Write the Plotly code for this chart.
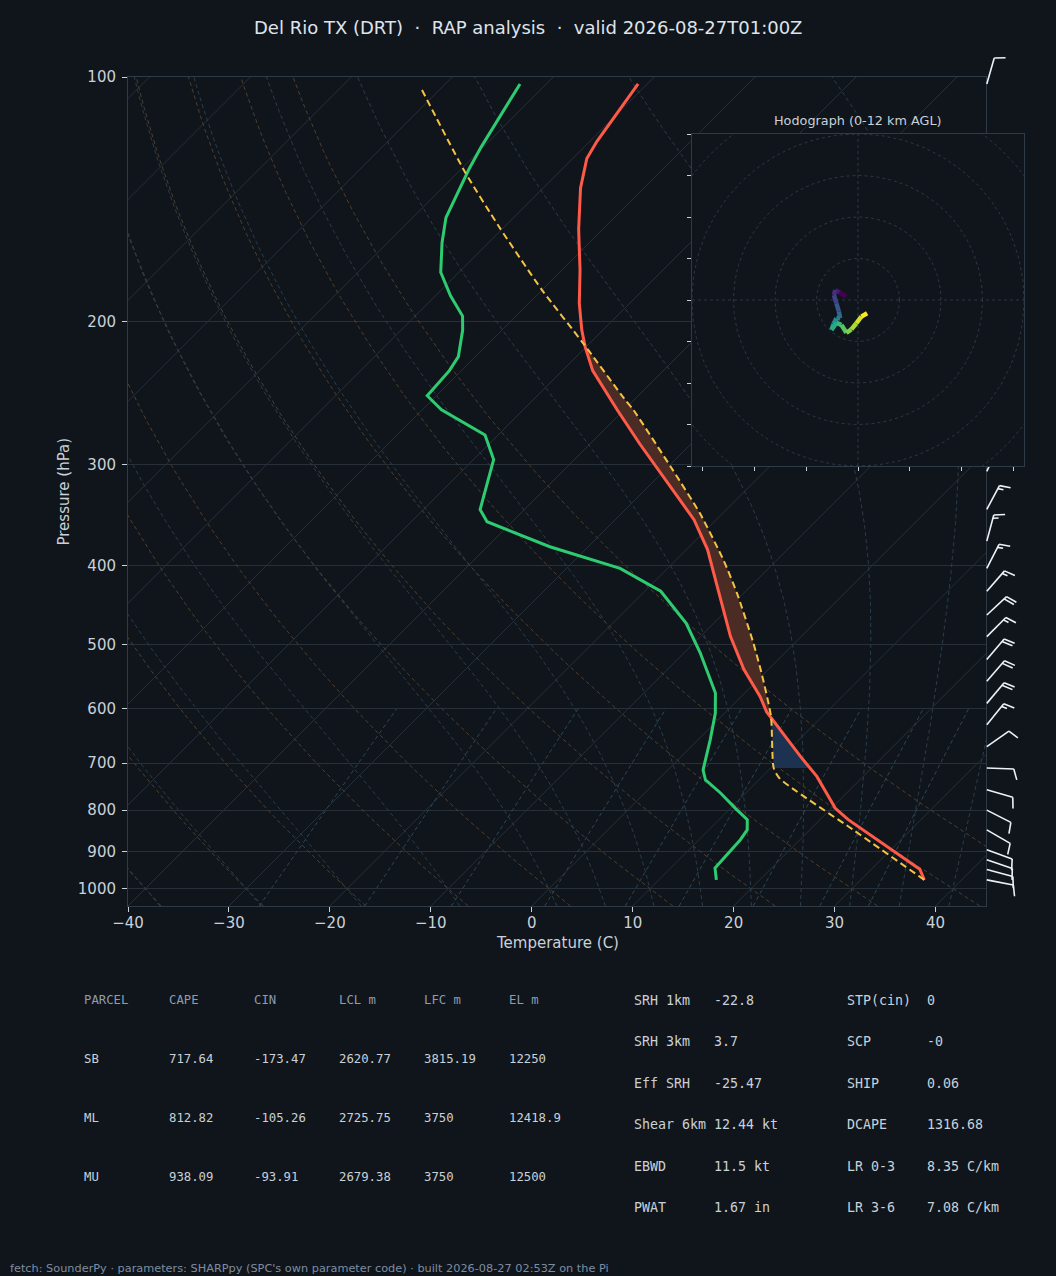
import numpy as np
import plotly.graph_objects as go
from plotly.colors import sample_colorscale

# ------------------------------------------------------------------
# Values
# ------------------------------------------------------------------
TEMP_P = [975, 946, 822, 796, 727, 687, 605, 580, 537, 489, 424, 382, 351, 311,
          283, 257, 236, 230, 215, 205, 190, 173, 154, 137, 126, 120, 102]
TEMP_C = [36.3, 34.8, 22.8, 20.4, 15.4, 11.8, 4.0, 1.9, -2.4, -7.0, -13.3, -17.9,
          -22.2, -29.5, -35.1, -40.7, -45.5, -47.0, -50.1, -52.1, -55.0, -58.2,
          -62.4, -66.3, -68.6, -69.3, -70.9]

DEW_P = [975, 943, 870, 846, 822, 796, 762, 734, 714, 655, 608, 574, 512, 471,
         430, 403, 379, 353, 341, 296, 276, 257, 247, 230, 221, 205, 197, 186,
         174, 160, 149, 130, 122, 102]
DEW_C = [15.7, 14.4, 14.1, 13.8, 12.8, 10.5, 7.5, 4.7, 3.5, 1.2, -0.9, -2.9, -8.4,
         -12.7, -18.4, -24.7, -33.8, -42.5, -44.4, -48.0, -51.3, -58.1, -60.9,
         -61.2, -61.7, -63.9, -65.3, -68.5, -71.8, -74.6, -76.7, -79.2, -80.2, -82.6]

PARCEL_P = [975, 846, 731, 710, 613, 545, 498, 432, 395, 345, 305, 257, 249, 213,
            183, 153, 131, 103]
PARCEL_C = [36.3, 24.3, 11.9, 10.3, 4.9, -0.1, -4.1, -10.7, -15.1, -22.2, -29.2,
            -39.1, -41.1, -50.6, -60.0, -70.5, -79.3, -92.1]
CIN_BASE_P = 710   # LCL: CIN shading starts here

BARB_P = [975, 947, 921, 895, 846, 800, 755, 710, 668, 628, 591, 555, 522, 489,
          460, 430, 403, 373, 341, 306, 102]
BARB_DIR = [101, 105, 109, 110, 120, 117, 106, 92, 55, 39, 40, 41, 40, 45, 47, 41,
            27, 15, 28, 25, 16]
BARB_KT = [10, 10, 10, 10, 10, 10, 10, 10, 10, 15, 20, 20, 20, 15, 20, 15, 15, 15,
           15, 15, 10]

HODO_U = [-2.8, -4.4, -5.5, -5.8, -5.2, -4.6, -4.3, -5.2, -5.9, -6.4, -5.2, -4.0,
          -2.8, -1.6, -0.4, 0.8, 2.2]
HODO_V = [0.8, 1.8, 2.4, 1.2, -0.8, -2.8, -4.4, -4.4, -5.8, -7.2, -5.5, -6.0,
          -7.9, -7.1, -5.6, -4.0, -3.2]
HODO_RINGS = [10, 20, 30, 40, 50, 60]
HODO_LIM = 40
HODO_XTICKS = [-37.5, -25, -12.5, 0, 12.5, 25, 37.5]
HODO_YTICKS = [-40, -30, -20, -10, 0, 10, 20, 30, 40]

P_TICKS = [100, 200, 300, 400, 500, 600, 700, 800, 900, 1000]
P_TICKTEXT = ["100", "200", "300", "400", "500", "600", "700", "800", "900", "1000"]
T_TICKS = [-40, -30, -20, -10, 0, 10, 20, 30, 40]

ISOTHERMS = list(range(-130, 50, 10))
DRY_T0 = list(range(-40, 60, 10))
MOIST_T0 = [-40, -30, -20, -10, 0, 5, 10, 15, 20, 25, 30, 35, 40, 45]
MIX_W = [0.0004, 0.001, 0.002, 0.004, 0.007, 0.01, 0.016, 0.024, 0.032]

TITLE = "Del Rio TX (DRT)\u00a0\u00a0·\u00a0\u00a0RAP analysis\u00a0\u00a0·\u00a0\u00a0valid 2026-08-27T01:00Z"
HODO_TITLE = "Hodograph (0-12 km AGL)"
FOOTER = "fetch: SounderPy · parameters: SHARPpy (SPC's own parameter code) · built 2026-08-27 02:53Z on the Pi"

PARCEL_HEADERS = ["PARCEL", "CAPE", "CIN", "LCL m", "LFC m", "EL m"]
PARCEL_NAMES = ["SB", "ML", "MU"]
PARCEL_CAPE = [717.64, 812.82, 938.09]
PARCEL_CIN = [-173.47, -105.26, -93.91]
PARCEL_LCL = [2620.77, 2725.75, 2679.38]
PARCEL_LFC = [3815.19, 3750, 3750]
PARCEL_EL = [12250, 12418.9, 12500]

KIN_NAMES = ["SRH 1km", "SRH 3km", "Eff SRH", "Shear 6km", "EBWD", "PWAT"]
KIN_VALUES = [-22.8, 3.7, -25.47, 12.44, 11.5, 1.67]
KIN_UNITS = ["", "", "", "kt", "kt", "in"]
THERMO_NAMES = ["STP(cin)", "SCP", "SHIP", "DCAPE", "LR 0-3", "LR 3-6"]
THERMO_VALUES = [0, -0.0, 0.06, 1316.68, 8.35, 7.08]
THERMO_UNITS = ["", "", "", "", "C/km", "C/km"]

# ------------------------------------------------------------------
# Layout / style
# ------------------------------------------------------------------
W, H = 1056, 1276
BG = "#10151c"
TXT = "#c9d1d9"
MUTED = "#8d9cb0"
SPINE = "#2f3a47"
GRID = "#272f39"
MONO = "DejaVu Sans Mono"
SANS = "DejaVu Sans"

PLOT_L, PLOT_R, PLOT_T, PLOT_B = 128, 986, 77, 906
BARB_TOP = 40
HODO_L, HODO_R, HODO_T, HODO_B = 692, 1024, 134, 466
X_MIN, X_MAX = -40, 45
P_BOT, P_TOP = 1050.0, 100.0

PX_PER_DEC = (PLOT_B - PLOT_T) / np.log10(P_BOT / P_TOP)
PX_PER_DEG = (PLOT_R - PLOT_L) / (X_MAX - X_MIN)


def skew(t, p):
    """45-degree skew (in display space) of temperature t at pressure p."""
    t = np.asarray(t, dtype=float)
    p = np.asarray(p, dtype=float)
    return t + np.log10(P_BOT / p) * PX_PER_DEC / PX_PER_DEG


# ------------------------------------------------------------------
# Thermodynamic reference lines
# ------------------------------------------------------------------
RD, CPD, LV, EPS = 287.04749, 1004.6662, 2.50084e6, 0.6219569


def sat_mr(tk, p):
    tc = tk - 273.15
    es = 6.112 * np.exp(17.67 * tc / (tc + 243.5))
    return EPS * es / (p - es)


def moist_rate(tk, p):
    rs = sat_mr(tk, p)
    return (RD * tk + LV * rs) / (CPD + LV * LV * rs * EPS / (RD * tk * tk)) / p


def moist_run(t0c, plev):
    t = t0c + 273.15
    out = [t]
    for i in range(1, len(plev)):
        p0, p1 = plev[i - 1], plev[i]
        h = p1 - p0
        k1 = moist_rate(t, p0)
        k2 = moist_rate(t + 0.5 * h * k1, p0 + 0.5 * h)
        k3 = moist_rate(t + 0.5 * h * k2, p0 + 0.5 * h)
        k4 = moist_rate(t + h * k3, p1)
        t = t + h * (k1 + 2 * k2 + 2 * k3 + k4) / 6.0
        out.append(t)
    return np.array(out) - 273.15


def joined(lines):
    xs, ys = [], []
    for x, y in lines:
        xs.extend(list(x) + [None])
        ys.extend(list(y) + [None])
    return xs, ys


p_full = np.geomspace(P_BOT, P_TOP, 80)

iso_lines = [(skew([t, t], [P_BOT, P_TOP]), [P_BOT, P_TOP]) for t in ISOTHERMS]
dry_lines = []
for t0 in DRY_T0:
    tt = (t0 + 273.15) * (p_full / 1000.0) ** (RD / CPD) - 273.15
    dry_lines.append((skew(tt, p_full), p_full))

p_up = np.linspace(1000.0, P_TOP, 181)
p_dn = np.linspace(1000.0, P_BOT, 6)
moist_lines = []
for t0 in MOIST_T0:
    up = moist_run(t0, p_up)
    dn = moist_run(t0, p_dn)
    pp = np.concatenate([p_dn[::-1], p_up[1:]])
    tt = np.concatenate([dn[::-1], up[1:]])
    moist_lines.append((skew(tt, pp), pp))

p_mix = np.linspace(P_BOT, 600.0, 30)
mix_lines = []
for w in MIX_W:
    e = p_mix * w / (EPS + w)
    lg = np.log(e / 6.112)
    td = 243.5 * lg / (17.67 - lg)
    mix_lines.append((skew(td, p_mix), p_mix))

fig = go.Figure()


def add_bg(lines, color, dash, width=1):
    xs, ys = joined(lines)
    fig.add_trace(go.Scatter(x=xs, y=ys, mode="lines", hoverinfo="skip",
                             line=dict(color=color, width=width, dash=dash),
                             xaxis="x", yaxis="y"))


add_bg(iso_lines, GRID, "solid")
add_bg(dry_lines, "#4e3f2d", "4px,3px")
add_bg(moist_lines, "#2a3c4a", "4px,3px")
add_bg(mix_lines, "#2b4656", "4px,3px")

# ------------------------------------------------------------------
# CAPE / CIN shading between parcel and environment
# ------------------------------------------------------------------
def interp_logp(ps, ts, pn):
    return np.interp(np.log(pn), np.log(np.asarray(ps, float))[::-1],
                     np.asarray(ts, float)[::-1])


p_top_par = min(PARCEL_P)
grid = sorted({p for p in TEMP_P + PARCEL_P if p_top_par <= p <= CIN_BASE_P} |
              {CIN_BASE_P}, reverse=True)
grid = np.array(grid, float)
tp = interp_logp(PARCEL_P, PARCEL_C, grid)
te = interp_logp(TEMP_P, TEMP_C, grid)
dif = tp - te

gp, gtp, gte = [grid[0]], [tp[0]], [te[0]]
for i in range(1, len(grid)):
    if dif[i - 1] * dif[i] < 0:
        f = dif[i - 1] / (dif[i - 1] - dif[i])
        lp = np.log(grid[i - 1]) + f * (np.log(grid[i]) - np.log(grid[i - 1]))
        pc = float(np.exp(lp))
        tc = tp[i - 1] + f * (tp[i] - tp[i - 1])
        gp.append(pc); gtp.append(tc); gte.append(tc)
    gp.append(grid[i]); gtp.append(tp[i]); gte.append(te[i])
gp, gtp, gte = np.array(gp), np.array(gtp), np.array(gte)
gd = gtp - gte

runs = []
cur = [0]
sign = np.sign(gd[0]) if gd[0] != 0 else np.sign(gd[1])
for i in range(1, len(gp)):
    s = np.sign(gd[i])
    if s == 0 or s == sign:
        cur.append(i)
        if s == 0:
            runs.append((sign, cur)); cur = [i]
            sign = np.sign(gd[i + 1]) if i + 1 < len(gd) else sign
    else:
        runs.append((sign, cur)); cur = [i]; sign = s
runs.append((sign, cur))

seen_pos = False
for sgn, idx in runs:
    if len(idx) < 2:
        continue
    if sgn > 0:
        color = "#4a2c24"
        seen_pos = True
    else:
        if seen_pos:
            continue
        color = "#1d3250"
    pp = np.concatenate([gp[idx], gp[idx][::-1]])
    tt = np.concatenate([gtp[idx], gte[idx][::-1]])
    fig.add_trace(go.Scatter(x=skew(tt, pp), y=pp, mode="lines", fill="toself",
                             fillcolor=color, line=dict(width=0, color=color),
                             hoverinfo="skip", xaxis="x", yaxis="y"))

# ------------------------------------------------------------------
# Profiles
# ------------------------------------------------------------------
fig.add_trace(go.Scatter(x=skew(DEW_C, DEW_P), y=DEW_P, mode="lines",
                         line=dict(color="#2ecc71", width=3), name="Dewpoint",
                         xaxis="x", yaxis="y"))
fig.add_trace(go.Scatter(x=skew(TEMP_C, TEMP_P), y=TEMP_P, mode="lines",
                         line=dict(color="#ff5a48", width=3), name="Temperature",
                         xaxis="x", yaxis="y"))
fig.add_trace(go.Scatter(x=skew(PARCEL_C, PARCEL_P), y=PARCEL_P, mode="lines",
                         line=dict(color="#f5c342", width=2, dash="7px,4px",
                                   shape="spline", smoothing=0.6),
                         name="Parcel", xaxis="x", yaxis="y"))

# ------------------------------------------------------------------
# Wind barbs (own axis to the right of the diagram, same log-p scale)
# ------------------------------------------------------------------
BARB_LEN = 27.0
BARB_X0 = 0.8


def barb_path(p0, spd, wdir):
    L = BARB_LEN
    d = np.deg2rad(wdir)
    sx, sy = np.sin(d), np.cos(d)
    nx, ny = sy, -sx
    r = int(5 * round(spd / 5.0))
    nfull, r = divmod(r, 10)
    nhalf = r // 5
    segs = [((0.0, 0.0), (L * sx, L * sy))]
    pos = L
    sp = 0.125 * L
    for _ in range(nfull):
        bx, by = pos * sx, pos * sy
        segs.append(((bx, by), (bx + 0.4 * L * nx + 0.125 * L * sx,
                                by + 0.4 * L * ny + 0.125 * L * sy)))
        pos -= sp
    if nhalf:
        if nfull == 0:
            pos -= sp
        bx, by = pos * sx, pos * sy
        segs.append(((bx, by), (bx + 0.2 * L * nx + 0.0625 * L * sx,
                                by + 0.2 * L * ny + 0.0625 * L * sy)))
    xs, ys = [], []
    for a, b in segs:
        for dx, dy in (a, b):
            xs.append(BARB_X0 + dx)
            ys.append(p0 * 10 ** (-dy / PX_PER_DEC))
        xs.append(None); ys.append(None)
    return xs, ys


bx_all, by_all = [], []
for p0, spd, wd in zip(BARB_P, BARB_KT, BARB_DIR):
    xs, ys = barb_path(p0, spd, wd)
    bx_all += xs; by_all += ys
fig.add_trace(go.Scatter(x=bx_all, y=by_all, mode="lines", hoverinfo="skip",
                         line=dict(color="#eef2f6", width=1.6),
                         xaxis="x2", yaxis="y3"))

# ------------------------------------------------------------------
# Hodograph inset
# ------------------------------------------------------------------
theta = np.linspace(0, 2 * np.pi, 241)
ring_lines = [(r * np.cos(theta), r * np.sin(theta)) for r in HODO_RINGS]
ring_lines += [([-HODO_LIM, HODO_LIM], [0, 0]), ([0, 0], [-HODO_LIM, HODO_LIM])]
rx, ry = joined(ring_lines)
fig.add_trace(go.Scatter(x=rx, y=ry, mode="lines", hoverinfo="skip",
                         line=dict(color="#2c3744", width=1, dash="3px,3px"),
                         xaxis="x3", yaxis="y2"))
seg_cols = sample_colorscale("Viridis", list(np.linspace(0, 1, len(HODO_U) - 1)))
for i in range(len(HODO_U) - 1):
    fig.add_trace(go.Scatter(x=HODO_U[i:i + 2], y=HODO_V[i:i + 2], mode="lines",
                             line=dict(color=seg_cols[i], width=4.5),
                             hoverinfo="skip", xaxis="x3", yaxis="y2"))

# ------------------------------------------------------------------
# Axes
# ------------------------------------------------------------------
axis_common = dict(showline=True, mirror=True, linecolor=SPINE, linewidth=1,
                   ticks="outside", ticklen=5, tickcolor=TXT, tickwidth=1,
                   zeroline=False, automargin=False,
                   tickfont=dict(size=15, color=TXT, family=SANS))

fig.update_layout(
    template="none",
    width=W, height=H, margin=dict(l=0, r=0, t=0, b=0, pad=0, autoexpand=False),
    paper_bgcolor=BG, plot_bgcolor=BG, showlegend=False,
    font=dict(family=SANS, color=TXT),
    xaxis=dict(domain=[PLOT_L / W, PLOT_R / W], range=[X_MIN, X_MAX],
               tickvals=T_TICKS, showgrid=False, anchor="y",
               ticklabelstandoff=-2, **axis_common),
    yaxis=dict(domain=[1 - PLOT_B / H, 1 - PLOT_T / H], type="log",
               range=[np.log10(P_BOT), np.log10(P_TOP)], tickvals=P_TICKS,
               ticktext=P_TICKTEXT, showgrid=True, gridcolor=GRID, gridwidth=1,
               anchor="x", ticklabelstandoff=3, **axis_common),
    xaxis2=dict(domain=[PLOT_R / W, 1.0], range=[0, W - PLOT_R], visible=False,
                anchor="y3", fixedrange=True, automargin=False),
    yaxis3=dict(domain=[1 - PLOT_B / H, 1 - BARB_TOP / H], type="log",
                range=[np.log10(P_BOT),
                       np.log10(P_TOP) - (PLOT_T - BARB_TOP) / PX_PER_DEC],
                visible=False, anchor="x2", fixedrange=True, automargin=False),
    xaxis3=dict(domain=[HODO_L / W, HODO_R / W], range=[-HODO_LIM, HODO_LIM],
                anchor="y2", showline=True, mirror=True, linecolor=SPINE,
                ticks="outside", ticklen=4, tickcolor=TXT, tickvals=HODO_XTICKS,
                showticklabels=False, showgrid=False, zeroline=False,
                automargin=False),
    yaxis2=dict(domain=[1 - HODO_B / H, 1 - HODO_T / H], range=[-HODO_LIM, HODO_LIM],
                anchor="x3", showline=True, mirror=True, linecolor=SPINE,
                ticks="outside", ticklen=4, tickcolor=TXT, tickvals=HODO_YTICKS,
                showticklabels=False, showgrid=False, zeroline=False,
                automargin=False),
)

# ------------------------------------------------------------------
# Text: titles, axis titles, tables, footer
# ------------------------------------------------------------------
anns = []
PAD = 2  # annotation inner padding compensation (px)


def ann(text, x_px, y_px, size, color, family=SANS, xanchor="left", angle=0):
    if xanchor == "left":
        x_px = x_px - PAD
    anns.append(dict(text=text, x=x_px / W, y=1 - y_px / H, xref="paper",
                     yref="paper", xanchor=xanchor, yanchor="middle",
                     showarrow=False, textangle=angle,
                     font=dict(size=size, color=color, family=family)))


ann(TITLE, W / 2, 27, 18, "#dfe4ea", xanchor="center")
ann(HODO_TITLE, (HODO_L + HODO_R) / 2, 120, 12.8, TXT, xanchor="center")
ann("Pressure (hPa)", 63, (PLOT_T + PLOT_B) / 2, 15, TXT, xanchor="center", angle=-90)
ann("Temperature (C)", (PLOT_L + PLOT_R) / 2, 943, 15, TXT, xanchor="center")


def fmt(v):
    return f"{v:g}"


LEFT_COLS = [84, 169, 254, 339, 424, 509]
LEFT_ROWS = [1000, 1059, 1118, 1177]
for c, h in zip(LEFT_COLS, PARCEL_HEADERS):
    ann(h, c, LEFT_ROWS[0], 12.3, MUTED, family=MONO)
for r, vals in enumerate(zip(PARCEL_NAMES, PARCEL_CAPE, PARCEL_CIN, PARCEL_LCL,
                             PARCEL_LFC, PARCEL_EL)):
    for c, v in zip(LEFT_COLS, vals):
        ann(v if isinstance(v, str) else fmt(v), c, LEFT_ROWS[r + 1], 12.3, TXT,
            family=MONO)

RIGHT_ROWS = [1000, 1041, 1083, 1124, 1166, 1207]
for r in range(len(KIN_NAMES)):
    ann(KIN_NAMES[r], 634, RIGHT_ROWS[r], 13.3, TXT, family=MONO)
    ann((fmt(KIN_VALUES[r]) + " " + KIN_UNITS[r]).strip(), 714, RIGHT_ROWS[r], 13.3,
        TXT, family=MONO)
    ann(THERMO_NAMES[r], 847, RIGHT_ROWS[r], 13.3, TXT, family=MONO)
    ann((fmt(THERMO_VALUES[r]) + " " + THERMO_UNITS[r]).strip(), 927, RIGHT_ROWS[r],
        13.3, TXT, family=MONO)

ann(FOOTER, 10, 1268, 11.3, "#7e8da0")

fig.update_layout(annotations=anns)
fig.write_html(
    "out.html",
    config={"displayModeBar": False},
    post_script="document.body.style.margin='0';document.body.style.overflow='hidden';",
)
